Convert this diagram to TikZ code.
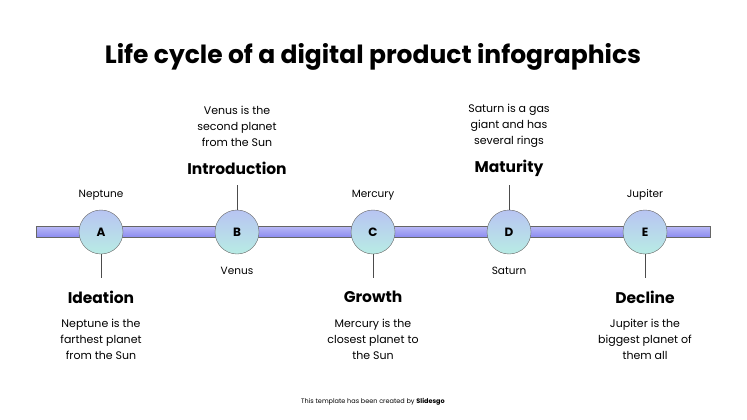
\documentclass[tikz,border=0pt]{standalone}
\usepackage{fontspec}
\setmainfont{Poppins}
\usetikzlibrary{positioning}
\definecolor{barblue}{HTML}{8C8CF0}
\definecolor{circtop}{HTML}{B8C4F2}
\definecolor{circbot}{HTML}{B8ECE4}
\begin{document}
\begin{tikzpicture}[x=1pt,y=-1pt,
    stage/.style={circle,draw=black!60,minimum size=44pt,inner sep=0pt,
      top color=circtop,bottom color=circbot,font=\fontsize{12}{13}\selectfont\bfseries},
    planet/.style={font=\fontsize{10.5}{12}\selectfont},
    phase/.style={font=\fontsize{15.5}{17}\selectfont\bfseries},
    info/.style={align=center,font=\fontsize{11}{16}\selectfont}]
  \useasboundingbox (0,0) rectangle (747,420);
  \node[font=\fontsize{25}{28}\selectfont\bfseries] (title) at (373,57) {Life cycle of a digital product infographics};
  % timeline
  \draw[black!60,top color=barblue!60,bottom color=barblue] (36,226) rectangle (710,237);
  \foreach \x/\l in {101/A,237/B,373/C,509/D,645/E}
    \node[stage] (\l) at (\x,232) {\l};
  % stages below
  \foreach \n/\p/\t/\d in {A/Neptune/Ideation/{Neptune is the\\farthest planet\\from the Sun},
                           C/Mercury/Growth/{Mercury is the\\closest planet to\\the Sun},
                           E/Jupiter/Decline/{Jupiter is the\\biggest planet of\\them all}}{
    \node[planet] (p\n) at ([yshift=37pt]\n.center) {\p};
    \coordinate (e\n) at ([yshift=-46pt]\n.center);
    \draw[black!70] (\n.south) -- (e\n);
    \node[phase] (t\n) at ([yshift=-65pt]\n.center) {\t};
    \node[info] (d\n) at ([yshift=-107pt]\n.center) {\d};
  }
  % stages above
  \foreach \n/\p/\t/\d in {B/Venus/Introduction/{Venus is the\\second planet\\from the Sun},
                           D/Saturn/Maturity/{Saturn is a gas\\giant and has\\several rings}}{
    \node[planet] (p\n) at ([yshift=-39pt]\n.center) {\p};
    \coordinate (e\n) at ([yshift=47pt]\n.center);
    \draw[black!70] (\n.north) -- (e\n);
    \node[phase] (t\n) at ([yshift=64pt]\n.center) {\t};
    \node[info] (d\n) at ([yshift=106pt]\n.center) {\d};
  }
  \node[font=\fontsize{6.5}{8}\selectfont] (credit) at (373,402) {This template has been created by \textbf{Slidesgo}};
\end{tikzpicture}
\end{document}
